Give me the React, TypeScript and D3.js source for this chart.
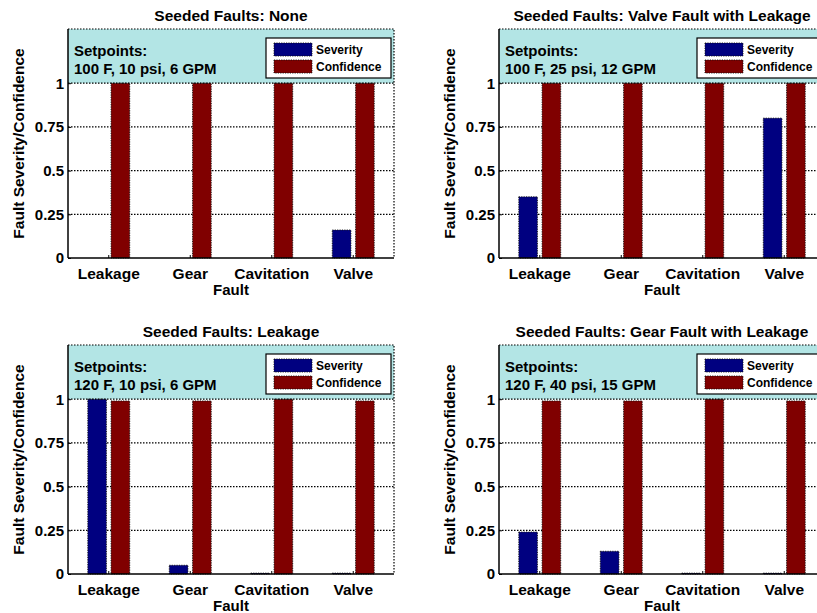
import React, { useEffect, useRef } from 'react';
import * as d3 from 'd3';

const faults = ['Leakage', 'Gear', 'Cavitation', 'Valve'];
const yTicks = [0, 0.25, 0.5, 0.75, 1];
const yTickLabels = ['0', '0.25', '0.5', '0.75', '1'];
const seriesNames = ['Severity', 'Confidence'];
const seriesColors = ['#000080', '#800000'];

const titles = [
  'Seeded Faults: None',
  'Seeded Faults: Valve Fault with Leakage',
  'Seeded Faults: Leakage',
  'Seeded Faults: Gear Fault with Leakage',
];
const setpoints = [
  '100 F, 10 psi, 6 GPM',
  '100 F, 25 psi, 12 GPM',
  '120 F, 10 psi, 6 GPM',
  '120 F, 40 psi, 15 GPM',
];

const severityNone = [0, 0, 0, 0.16];
const confidenceNone = [1, 1, 1, 1];
const severityValve = [0.35, 0, 0, 0.8];
const confidenceValve = [1, 1, 1, 1];
const severityLeak = [1, 0.05, 0.005, 0.005];
const confidenceLeak = [0.99, 0.99, 1, 0.99];
const severityGear = [0.24, 0.13, 0.005, 0.005];
const confidenceGear = [0.99, 0.99, 1, 0.99];

const panels = [
  { severity: severityNone, confidence: confidenceNone },
  { severity: severityValve, confidence: confidenceValve },
  { severity: severityLeak, confidence: confidenceLeak },
  { severity: severityGear, confidence: confidenceGear },
];

const FONT = '"Liberation Sans", Arial, Helvetica, sans-serif';
const W = 326;
const H = 229;

const App = () => {
  const ref = useRef<SVGSVGElement>(null);

  useEffect(() => {
    if (!ref.current) return;
    const svg = d3.select(ref.current);
    svg.selectAll('*').remove();

    panels.forEach((p, i) => {
      const ox = i % 2 ? 499 : 68;
      const oy = i < 2 ? 29 : 345;
      const g = svg.append('g').attr('transform', `translate(${ox},${oy})`);

      const x = d3.scaleBand().domain(faults).range([0, W]);
      const y = d3.scaleLinear().domain([0, 1.31]).range([H, 0]);
      const bw = x.bandwidth();
      // matlab grouped bar geometry
      const groupW = Math.min(0.8, 2 / 3.5) * bw;
      const barW = (groupW / 2) * 0.8;
      const sub = d3.scaleBand().domain(seriesNames).range([-groupW / 2, groupW / 2]);

      g.append('rect').attr('width', W).attr('height', H).attr('fill', '#fff');
      // setpoint box
      g.append('rect')
        .attr('x', 0).attr('y', 0)
        .attr('width', W).attr('height', y(1))
        .attr('fill', '#b3e5e5');

      // grid
      g.selectAll('.grid')
        .data(yTicks.slice(1, 4))
        .enter().append('line')
        .attr('x1', 0).attr('x2', W)
        .attr('y1', d => y(d)).attr('y2', d => y(d))
        .attr('stroke', '#000')
        .attr('stroke-width', 1.2)
        .attr('stroke-dasharray', '1.5,1.5');

      // bars
      seriesNames.forEach((name, s) => {
        const vals = s === 0 ? p.severity : p.confidence;
        g.selectAll(`.bar${s}`)
          .data(vals)
          .enter().append('rect')
          .attr('x', (d, j) => (x(faults[j]) as number) + bw / 2 + (sub(name) as number) + sub.bandwidth() / 2 - barW / 2)
          .attr('y', d => y(d))
          .attr('width', barW)
          .attr('height', d => y(0) - y(d))
          .attr('fill', seriesColors[s])
          .attr('stroke', '#111')
          .attr('stroke-width', 0.9)
          .attr('stroke-dasharray', '1.2,1.2');
      });

      // dotted box edges
      g.append('path')
        .attr('d', `M0,${y(1)}H${W}M0,0H${W}V${H}`)
        .attr('fill', 'none')
        .attr('stroke', '#000')
        .attr('stroke-width', 1.2)
        .attr('stroke-dasharray', '1.5,1.5');

      // legend
      const lg = g.append('g').attr('transform', `translate(${W - 128},9)`);
      lg.append('rect')
        .attr('width', 125).attr('height', 40)
        .attr('fill', '#fff').attr('stroke', '#000').attr('stroke-width', 1.2);
      seriesNames.forEach((name, s) => {
        lg.append('rect')
          .attr('x', 8).attr('y', 5 + s * 17)
          .attr('width', 38).attr('height', 13)
          .attr('fill', seriesColors[s])
          .attr('stroke', '#111').attr('stroke-width', 0.9).attr('stroke-dasharray', '1.2,1.2');
        lg.append('text')
          .attr('x', 50).attr('y', 5 + s * 17 + 11)
          .attr('font-family', FONT).attr('font-weight', 'bold').attr('font-size', 12)
          .text(name);
      });

      // setpoints
      const st = g.append('text')
        .attr('font-family', FONT).attr('font-weight', 'bold').attr('font-size', 15);
      st.append('tspan').attr('x', 6).attr('y', 27).text('Setpoints:');
      st.append('tspan').attr('x', 6).attr('y', 45).text(setpoints[i]);

      // axes
      const ya = g.append('g')
        .call(d3.axisLeft(y).tickValues(yTicks).tickFormat((d, k) => yTickLabels[k]).tickSize(-3).tickSizeOuter(0).tickPadding(4));
      const xa = g.append('g')
        .attr('transform', `translate(0,${H})`)
        .call(d3.axisBottom(x).tickSize(-3).tickSizeOuter(0).tickPadding(10));
      [ya, xa].forEach(a => {
        a.select('.domain').attr('stroke', '#000').attr('stroke-width', 1.5);
        a.selectAll('.tick line').attr('stroke', '#000');
        a.selectAll('text')
          .attr('font-family', FONT).attr('font-weight', 'bold').attr('fill', '#000');
      });
      ya.selectAll('text').attr('font-size', 15);
      xa.selectAll('text').attr('font-size', 15.5);
      ya.select('.domain').attr('d', `M0,0V${H}`);
      xa.select('.domain').attr('d', `M0,0H${W}`);

      // title and labels
      g.append('text')
        .attr('x', W / 2).attr('y', -8)
        .attr('text-anchor', 'middle')
        .attr('font-family', FONT).attr('font-weight', 'bold').attr('font-size', 15.5)
        .text(titles[i]);
      g.append('text')
        .attr('x', W / 2).attr('y', H + 37)
        .attr('text-anchor', 'middle')
        .attr('font-family', FONT).attr('font-weight', 'bold').attr('font-size', 15)
        .text('Fault');
      g.append('text')
        .attr('transform', `translate(-44,${H / 2}) rotate(-90)`)
        .attr('text-anchor', 'middle')
        .attr('font-family', FONT).attr('font-weight', 'bold').attr('font-size', 15.5)
        .text('Fault Severity/Confidence');
    });
  }, []);

  return (
    <svg
      ref={ref}
      width={817}
      height={613}
      style={{ position: 'absolute', left: 0, top: 0, background: '#fff' }}
    />
  );
};

export default App;
